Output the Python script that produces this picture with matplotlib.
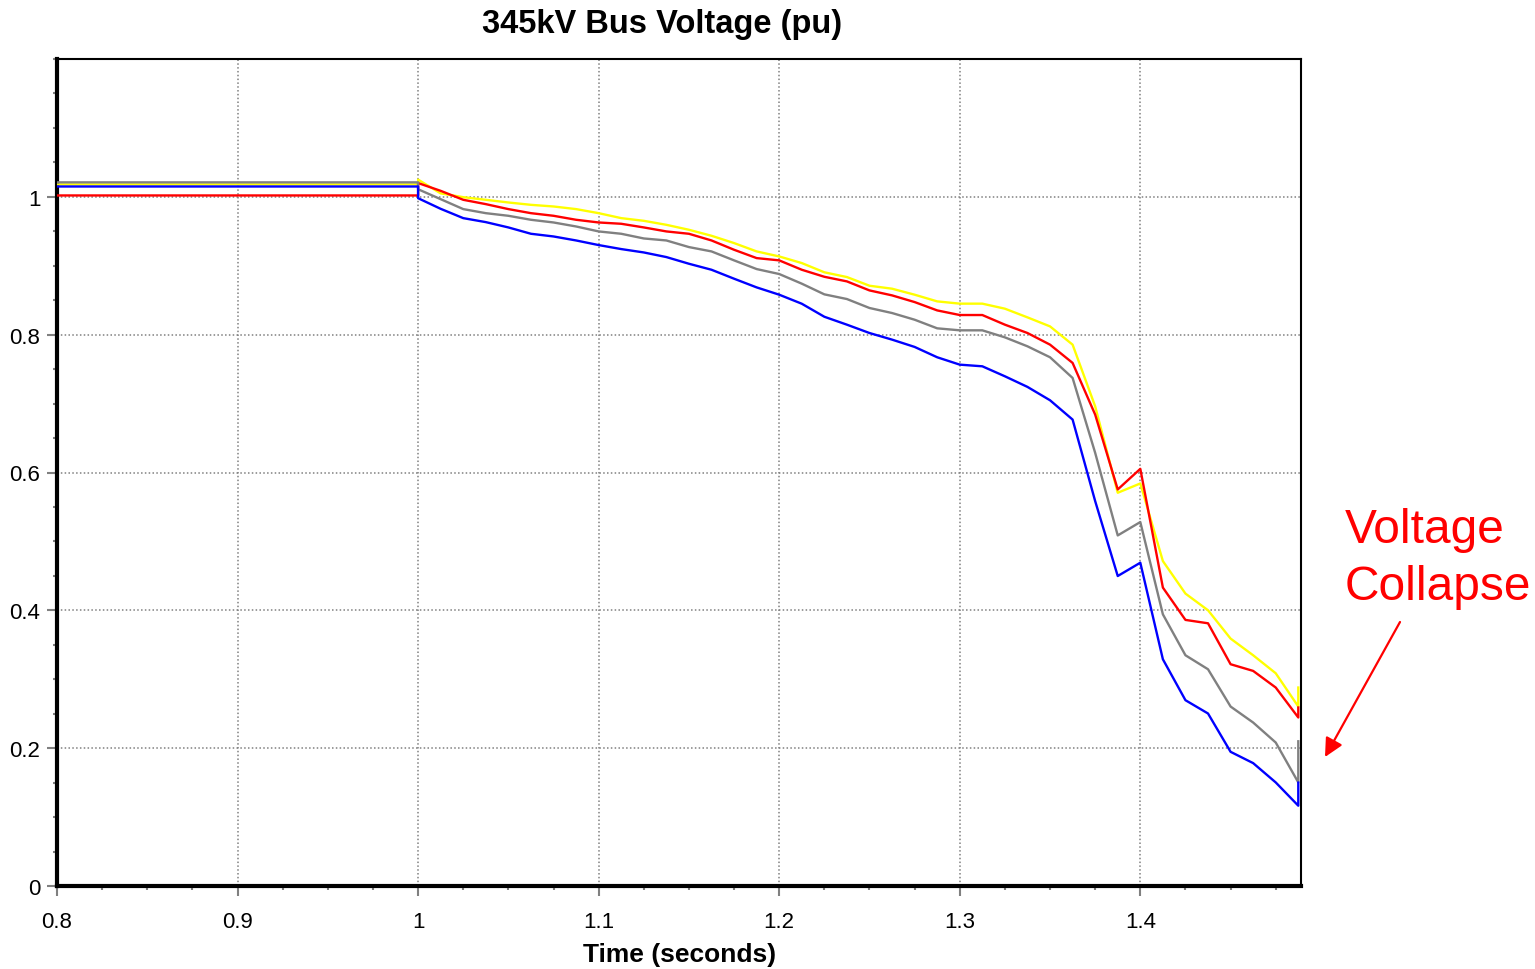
import matplotlib
matplotlib.use("Agg")
import matplotlib.pyplot as plt
from matplotlib.ticker import MultipleLocator

plt.rcParams['font.family'] = ['Liberation Sans', 'DejaVu Sans']

# ---- data ----
time = [0.8, 1.0, 1.0, 1.0125, 1.025, 1.0375, 1.05, 1.0625, 1.075, 1.0875, 1.1,
        1.1125, 1.125, 1.1375, 1.15, 1.1625, 1.175, 1.1875, 1.2, 1.2125, 1.225,
        1.2375, 1.25, 1.2625, 1.275, 1.2875, 1.3, 1.3125, 1.325, 1.3375, 1.35,
        1.3625, 1.375, 1.3875, 1.4, 1.4125, 1.425, 1.4375, 1.45, 1.4625, 1.475,
        1.4875, 1.4875]

v_yellow = [1.018, 1.018, 1.025, 1.005, 0.9995, 0.9957, 0.9918, 0.9884, 0.986, 0.9822, 0.9763,
            0.9691, 0.9652, 0.9594, 0.9522, 0.9435, 0.9329, 0.9208, 0.9135, 0.9039, 0.8905,
            0.8836, 0.871, 0.8667, 0.858, 0.8483, 0.845, 0.845, 0.8377, 0.8251, 0.812,
            0.7855, 0.696, 0.5706, 0.5841, 0.4715, 0.4243, 0.4001, 0.359, 0.3348, 0.3087,
            0.2604, 0.288]
v_red = [1.002, 1.002, 1.020, 1.0087, 0.9957, 0.9894, 0.9822, 0.9763, 0.9725, 0.9667, 0.9628,
         0.9609, 0.9556, 0.9498, 0.9464, 0.9367, 0.9232, 0.9111, 0.9078, 0.8942, 0.884,
         0.8773, 0.8642, 0.857, 0.8473, 0.8352, 0.8285, 0.8285, 0.8145, 0.8024, 0.7855,
         0.759, 0.684, 0.5754, 0.6053, 0.433, 0.3861, 0.3812, 0.3218, 0.3121, 0.288,
         0.2445, 0.259]
v_gray = [1.021, 1.021, 1.011, 0.9966, 0.9822, 0.9763, 0.9725, 0.9667, 0.9628, 0.957, 0.9498,
          0.9464, 0.9396, 0.9367, 0.9271, 0.9208, 0.9078, 0.8952, 0.888, 0.874, 0.8585,
          0.8517, 0.8387, 0.8314, 0.8217, 0.8092, 0.8063, 0.8063, 0.7961, 0.7831, 0.7672,
          0.7372, 0.6285, 0.5087, 0.5281, 0.3942, 0.3348, 0.3145, 0.2604, 0.2372, 0.2082,
          0.1503, 0.21]
v_blue = [1.015, 1.015, 0.998, 0.9826, 0.9691, 0.9633, 0.9556, 0.9464, 0.9425, 0.9367, 0.93,
          0.9242, 0.9193, 0.9126, 0.9029, 0.8942, 0.8812, 0.8686, 0.858, 0.8449, 0.826,
          0.8145, 0.8024, 0.7928, 0.7822, 0.7672, 0.7565, 0.7541, 0.7396, 0.7242, 0.7048,
          0.6768, 0.5585, 0.4498, 0.4691, 0.329, 0.2696, 0.2503, 0.1947, 0.1783, 0.1503,
          0.1165, 0.15]

x_ticks = [0.8, 0.9, 1.0, 1.1, 1.2, 1.3, 1.4]
x_tick_labels = ["0.8", "0.9", "1", "1.1", "1.2", "1.3", "1.4"]
y_ticks = [0, 0.2, 0.4, 0.6, 0.8, 1.0]
y_tick_labels = ["0", "0.2", "0.4", "0.6", "0.8", "1"]

title = "345kV Bus Voltage (pu)"
xlabel = "Time (seconds)"

# ---- figure ----
W, H = 1535, 970
fig = plt.figure(figsize=(W / 100, H / 100), dpi=100)
ax = fig.add_axes([57 / W, 1 - 887 / H, (1301 - 57) / W, (887 - 60) / H])

for vals, col in [(v_yellow, '#FFFF00'), (v_red, '#FF0000'),
                  (v_gray, '#808080'), (v_blue, '#0000FF')]:
    ax.plot(time, vals, color=col, lw=1.7, zorder=3)

ax.set_xlim(0.8, 1.489)
ax.set_ylim(0, 1.2)

ax.set_xticks(x_ticks)
ax.set_xticklabels(x_tick_labels)
ax.set_yticks(y_ticks)
ax.set_yticklabels(y_tick_labels)
ax.xaxis.set_minor_locator(MultipleLocator(0.025))
ax.yaxis.set_minor_locator(MultipleLocator(0.05))

ax.tick_params(axis='both', which='major', direction='out', length=7, width=1.5,
               color='#808080', labelsize=16, labelcolor='black')
ax.tick_params(axis='x', which='major', pad=11)
ax.tick_params(axis='y', which='major', pad=5)
ax.tick_params(axis='both', which='minor', direction='out', length=3, width=1.5,
               color='#808080')

ax.grid(True, which='major', color='#808080', linestyle=(0, (1, 1.5)), lw=1.1, zorder=1)

for s in ['left', 'bottom']:
    ax.spines[s].set_linewidth(3)
    ax.spines[s].set_color('black')
for s in ['top', 'right']:
    ax.spines[s].set_linewidth(1.5)
    ax.spines[s].set_color('black')

fig.text(662 / W, 1 - 24 / H, title, ha='center', va='center',
         fontsize=23.5, fontweight='bold')
fig.text(680 / W, 1 - 955 / H, xlabel, ha='center', va='center',
         fontsize=19, fontweight='bold')

fig.text(1345 / W, 1 - 543 / H, "Voltage", ha='left', va='baseline',
         fontsize=34.5, color='#FF0000')
fig.text(1345 / W, 1 - 600 / H, "Collapse", ha='left', va='baseline',
         fontsize=34.5, color='#FF0000')

ax.annotate("", xy=(1325, H - 758), xycoords='figure pixels',
            xytext=(1400, H - 623), textcoords='figure pixels',
            arrowprops=dict(arrowstyle='-|>', color='#FF0000', lw=1.6,
                            mutation_scale=28, shrinkA=0, shrinkB=0),
            annotation_clip=False)

fig.savefig("out.png", dpi=100)
